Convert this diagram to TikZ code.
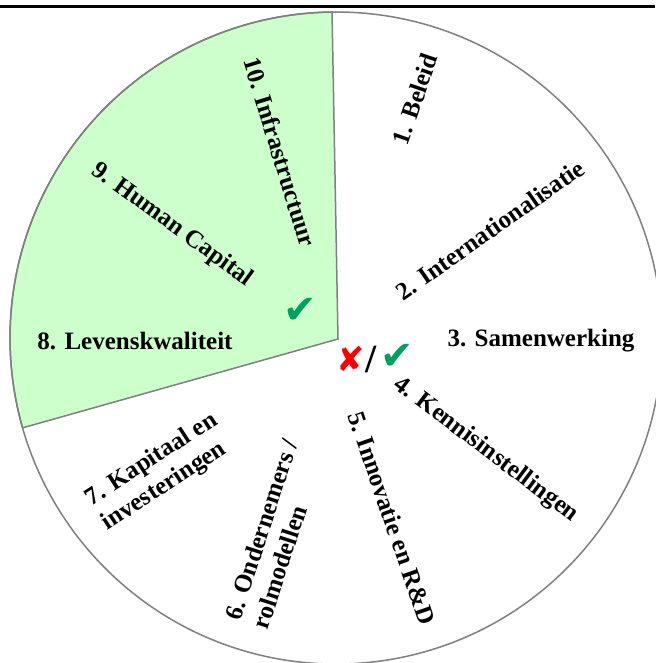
\documentclass[tikz,border=0pt]{standalone}
\usepackage{fontspec}
\setmainfont{Liberation Serif}
\newfontfamily\symfont{DejaVu Sans}
\definecolor{sectgreen}{RGB}{204,255,204}
\definecolor{rimgray}{RGB}{128,128,128}
\definecolor{checkgreen}{RGB}{0,160,96}
\begin{document}
\begin{tikzpicture}[x=1pt,y=-1pt,
  lbl/.style={font=\fontsize{25}{29}\selectfont\bfseries, inner sep=0pt, align=left},
  rim/.style={draw=rimgray, line width=1.5pt},
  sym/.style={inner sep=0pt, font=\symfont\fontsize{40}{40}\selectfont}]
\useasboundingbox (0,0) rectangle (655,663);
% top rule
\draw[line width=3pt] (0,7) -- (655,7);
\coordinate (C) at (336,338);
\coordinate (A) at (338,339);
% green sector
\filldraw[fill=sectgreen, rim] (A) -- ([shift={(-90.7:326)}]C) arc[start angle=-90.7, end angle=-196, radius=326] -- cycle;
% outer circle
\draw[rim] (C) circle[radius=326];
% labels
\node[lbl, rotate=71] (l1) at (415,99) {1. Beleid};
\node[lbl, rotate=35] (l2) at (490,230) {2. Internationalisatie};
\node[lbl] (l3) at (541,341) {3. Samenwerking};
\node[lbl, rotate=-37] (l4) at (486,450) {4. Kennisinstellingen};
\node[lbl, rotate=-71] (l5) at (392,518) {5. Innovatie en R\&D};
\node[lbl, rotate=72] (l6) at (275,534) {6. Ondernemers /\\rolmodellen};
\node[lbl, rotate=33] (l7) at (160,472) {7. Kapitaal en\\investeringen};
\node[lbl] (l8) at (135,341) {8. Levenskwaliteit};
\node[lbl, rotate=-36] (l9) at (172,225) {9. Human Capital};
\node[lbl, rotate=-73] (l10) at (280,152) {10. Infrastructuur};
% marks
\node[sym, text=checkgreen] (ck1) at (300,311) {✔};
\node[sym, text=red, font=\symfont\fontsize{34}{34}\selectfont] (xm) at (351,359) {✘};
\node[lbl, font=\fontsize{40}{40}\selectfont\bfseries] (sl) at (371,360) {/};
\node[sym, text=checkgreen] (ck2) at (397,357) {✔};
\end{tikzpicture}
\end{document}
